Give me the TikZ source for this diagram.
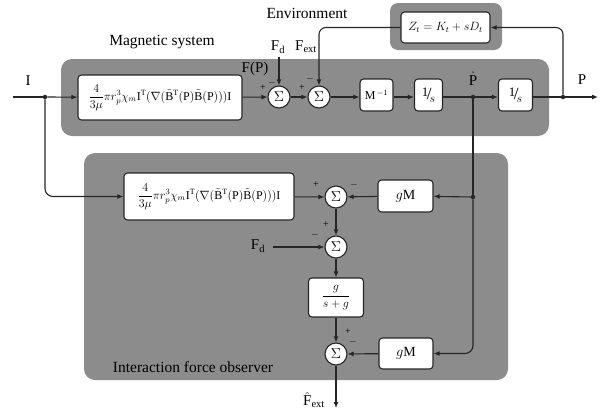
\documentclass[tikz,border=0pt]{standalone}
\usepackage{fontspec}
\setmainfont{Liberation Serif}
\usetikzlibrary{arrows.meta,calc}
\definecolor{panel}{HTML}{8C8C8C}
\definecolor{ink}{HTML}{262626}
\tikzset{
  blk/.style={draw=ink,line width=1.1pt,rounded corners=3.5pt,fill=white,inner sep=1pt},
  sumn/.style={circle,draw=ink,line width=1.1pt,fill=white,minimum size=22pt,inner sep=0pt,font=\fontsize{14}{14}\selectfont},
  arr/.style={draw=ink,line width=1.1pt,-{Latex[length=6pt,width=5pt]}},
  ln/.style={draw=ink,line width=1.1pt},
  jdot/.style={circle,fill=ink,minimum size=4.5pt,inner sep=0pt},
  sgn/.style={font=\fontsize{10}{10}\selectfont,inner sep=0pt},
  lbl/.style={font=\fontsize{15}{17}\selectfont,inner sep=0pt},
  ttl/.style={font=\fontsize{15.5}{18}\selectfont,inner sep=0pt},
  panelbox/.style={fill=panel,rounded corners=11pt}
}
\newcommand{\formula}{\fontsize{12}{14}\selectfont$\displaystyle\frac{4}{3\mu}\pi r_p^3\chi_m\mathrm{I}^{\mathrm{T}}(\nabla(\tilde{\mathrm{B}}{}^{\mathrm{T}}(\mathrm{P})\tilde{\mathrm{B}}(\mathrm{P})))\mathrm{I}$}
\newcommand{\integ}{\raisebox{3pt}{\fontsize{13}{13}\selectfont 1}\kern-1.5pt{\fontsize{17}{17}\selectfont/}\kern-2pt\raisebox{-3pt}{\fontsize{13}{13}\selectfont$s$}}
\begin{document}
\begin{tikzpicture}[x=1pt,y=-1pt]
\useasboundingbox (0,0) rectangle (600,418);
% panels
\fill[panelbox] (61,59) rectangle (549,136);
\fill[panelbox,rounded corners=8pt] (390,3) rectangle (502,50);
\fill[panelbox] (84,153) rectangle (508,380);
% titles
\node[ttl] (tmag) at (162,42) {Magnetic system};
\node[ttl] (tenv) at (307,13) {Environment};
\node[ttl] (tobs) at (193,367) {Interaction force observer};
% main row
\coordinate (in) at (13,97);
\node[jdot] (j1) at (45,97) {};
\node[blk,minimum width=164pt,minimum height=45pt] (f1) at (160,97.5) {\formula};
\node[sumn] (s1) at (279,97) {$\Sigma$};
\node[sumn] (s2) at (319,97) {$\Sigma$};
\node[blk,minimum width=33pt,minimum height=32pt,font=\fontsize{12}{12}\selectfont] (minv) at (376.5,95) {$\mathrm{M}^{\,-1}$};
\node[blk,minimum width=28pt,minimum height=32pt] (i1) at (428.5,95) {\integ};
\node[jdot] (jp) at (473,97) {};
\node[blk,minimum width=34pt,minimum height=32pt] (i2) at (515.5,95) {\integ};
\node[jdot] (jP) at (563,97) {};
\coordinate (out) at (598,97);
\node[blk,minimum width=89pt,minimum height=31pt,font=\fontsize{12}{12}\selectfont] (z) at (445.5,27.5) {$Z_t = K_t + sD_t$};
% labels
\node[lbl] (lI) at (28,81) {I};
\node[lbl] (lPd) at (473,79) {$\dot{\mathrm{P}}$};
\node[lbl] (lP) at (582,80) {P};
\node[lbl] (lFP) at (255,69) {F(P)};
\node[lbl] (lFd) at (278,47) {F$_\mathrm{d}$};
\node[lbl] (lFe) at (306,47) {F$_\mathrm{ext}$};
\coordinate (fdtop) at (279,57);
% signs top
\node[sgn] at (263,88) {+};
\node[sgn] at (272,83) {$-$};
\node[sgn] at (302,88) {+};
\node[sgn] at (310,79) {$-$};
% main connectors
\draw[ln] (in) -- (j1);
\draw[arr] (j1) -- (f1);
\draw[arr] (f1) -- (s1);
\draw[arr] (fdtop) -- (s1);
\draw[arr] (s1) -- (s2);
\draw[arr] (s2) -- (minv.west |- s2);
\draw[arr] (minv.east |- s2) -- (i1.west |- s2);
\draw[ln] (i1.east |- s2) -- (jp);
\draw[arr] (jp) -- (i2.west |- jp);
\draw[ln] (i2.east |- jp) -- (jP);
\draw[arr] (jP) -- (out);
\draw[arr,rounded corners=7pt] (jP) |- (z.east);
\draw[arr,rounded corners=7pt] (z.west) -| (s2.north);
% observer
\node[blk,minimum width=170pt,minimum height=47pt] (f2) at (209,196.5) {\formula};
\node[sumn] (s3) at (336,197) {$\Sigma$};
\node[jdot] (jo) at (473,197) {};
\node[blk,minimum width=55pt,minimum height=32pt,font=\fontsize{14}{14}\selectfont] (gm1) at (405.5,196) {$g$M};
\node[sumn] (s4) at (336,247) {$\Sigma$};
\node[lbl] (lFd2) at (258,246) {F$_\mathrm{d}$};
\coordinate (fdl) at (273,247);
\node[blk,minimum width=55pt,minimum height=39pt,font=\fontsize{12}{12}\selectfont] (g) at (336,297.5) {$\displaystyle\frac{g}{s+g}$};
\node[sumn] (s5) at (336,354) {$\Sigma$};
\node[blk,minimum width=54pt,minimum height=31pt,font=\fontsize{14}{14}\selectfont] (gm2) at (406,353.5) {$g$M};
\coordinate (fout) at (336,408);
\node[lbl] (lFh) at (314,400) {$\hat{\mathrm{F}}_\mathrm{ext}$};
% signs observer
\node[sgn] at (316,185) {+};
\node[sgn] at (354,185) {$-$};
\node[sgn] at (326,225) {+};
\node[sgn] at (315,235) {$-$};
\node[sgn] at (348,332) {+};
\node[sgn] at (353,342) {$-$};
% observer connectors
\draw[arr,rounded corners=8pt] (j1) |- (f2.west);
\draw[arr] (f2) -- (s3);
\draw[ln] (jp) -- (jo);
\draw[arr] (jo) -- (gm1);
\draw[arr] (gm1) -- (s3);
\draw[arr] (s3) -- (s4);
\draw[arr] (fdl) -- (s4);
\draw[arr] (s4) -- (g);
\draw[arr] (g) -- (s5);
\draw[arr,rounded corners=8pt] (jo) |- (gm2.east);
\draw[arr] (gm2) -- (s5);
\draw[arr] (s5) -- (fout);
\end{tikzpicture}
\end{document}
